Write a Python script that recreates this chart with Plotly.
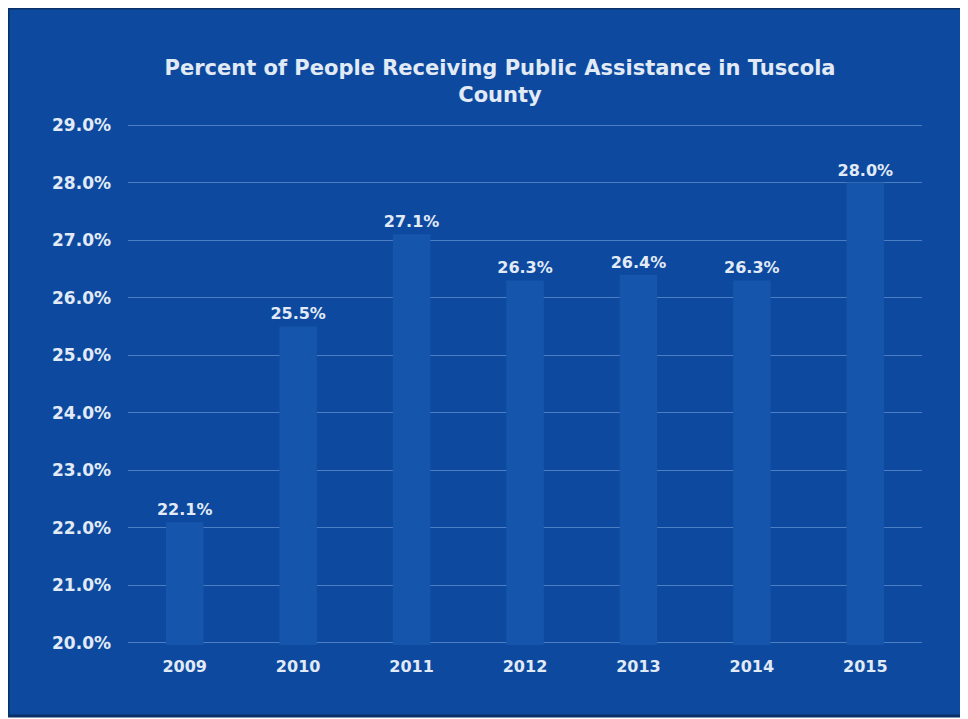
import plotly.graph_objects as go

years = ["2009", "2010", "2011", "2012", "2013", "2014", "2015"]
percent = [22.1, 25.5, 27.1, 26.3, 26.4, 26.3, 28.0]
tick_vals = [20, 21, 22, 23, 24, 25, 26, 27, 28, 29]
tick_text = [f"<b>{v:.1f}%</b>" for v in tick_vals]
bar_labels = [f"<b>{v:.1f}%</b>" for v in percent]
year_labels = [f"<b>{y}</b>" for y in years]

W, H = 960, 711
L, R, T, B = 120, 46, 115, 74
pw, ph = W - L - R, H - T - B

def px(x):
    return (x - L) / pw

def py(y):
    return (H - B - y) / ph

BG = "#0d4a9f"
BAR = "#1655ac"
TXT = "#e2eaf6"
FONT = "DejaVu Sans, Verdana, sans-serif"

fig = go.Figure()
fig.add_trace(go.Bar(
    x=years, y=percent,
    marker=dict(color=BAR, line=dict(width=0)),
    text=bar_labels,
    textposition="outside",
    constraintext="none",
    textfont=dict(color=TXT, size=16, family=FONT),
    cliponaxis=False,
    width=0.33,
))

fig.update_layout(
    width=W, height=H,
    margin=dict(l=L, r=R, t=T, b=B),
    paper_bgcolor="white",
    plot_bgcolor="rgba(0,0,0,0)",
    showlegend=False,
    title=dict(
        text="<b>Percent of People Receiving Public Assistance in Tuscola<br>County</b>",
        xref="container", yref="container",
        x=492 / W, xanchor="center", y=1 - 67 / H, yanchor="middle",
        font=dict(color=TXT, size=21, family=FONT),
    ),
    xaxis=dict(
        tickvals=years, ticktext=year_labels,
        showgrid=False, showline=False, zeroline=False,
        tickfont=dict(color=TXT, size=16, family=FONT),
        ticks="", ticklabelstandoff=10,
    ),
    yaxis=dict(
        range=[19.965, 29.035],
        tickvals=tick_vals, ticktext=tick_text,
        showgrid=True, gridcolor="rgba(130,170,225,0.55)", gridwidth=1,
        zeroline=False, showline=False,
        tickfont=dict(color=TXT, size=17, family=FONT),
        ticks="", ticklabelstandoff=16,
    ),
    shapes=[dict(
        type="rect", xref="paper", yref="paper", layer="below",
        x0=px(0), x1=px(962), y0=py(708), y1=py(0),
        fillcolor=BG, line=dict(color="#0a3068", width=3),
    )],
)

fig.write_html("out.html")
